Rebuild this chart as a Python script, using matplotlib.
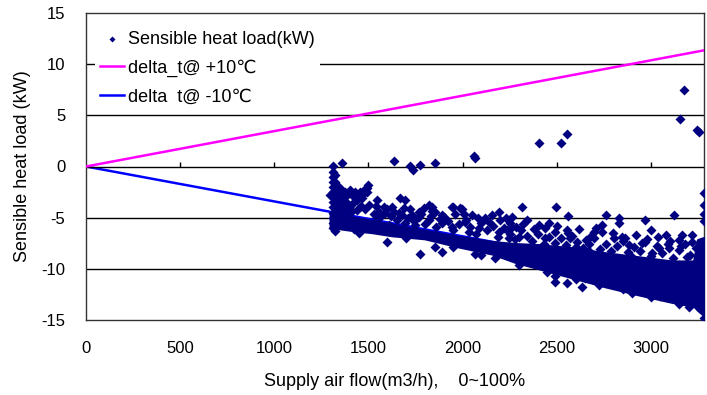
import matplotlib
matplotlib.use("Agg")
import matplotlib.pyplot as plt

plt.rcParams['font.family'] = ['Liberation Sans', 'DejaVu Sans']
plt.rcParams['axes.unicode_minus'] = False

# axis ranges / ticks
x_max = 3282
x_ticks = [0, 500, 1000, 1500, 2000, 2500, 3000]
y_ticks = [-15, -10, -5, 0, 5, 10, 15]

# reference lines (delta_t = +10 / -10), end points
line_x = [0, 3282]
line_plus = [0, 11.35]
line_minus = [0, -11.2]

core_x = [1300, 1340, 1420, 1520, 1625, 1800, 1980, 2160, 2280, 2400,
          2580, 2760, 2940, 3110, 3230, 3250, 3282]
core_hi = [-4.5, -4.75, -5.0, -5.35, -5.7, -6.3, -6.9, -7.4, -7.6, -7.7,
           -8.0, -8.5, -8.9, -9.3, -9.3, -7.2, -7.0]
core_lo = [-5.9, -6.0, -6.2, -6.4, -6.7, -7.0, -7.8, -8.5, -9.3, -9.9,
           -10.8, -11.7, -12.5, -13.2, -13.6, -14.0, -14.5]

# individual measured points outside the core
pts_x = [
    # positive outliers
    1311, 1361, 1637, 1719, 1737, 1772, 1854, 2060, 2068, 2405, 2525, 2557,
    3154, 3176, 3243, 3257,
    # column at start of the cloud
    1312, 1312, 1312, 1312, 1312, 1312, 1312, 1312, 1312, 1312, 1312, 1312,
    1320, 1320, 1320, 1320, 1320, 1320, 1320, 1320,
    # left blob
    1297, 1324, 1350, 1359, 1377, 1403, 1430, 1448, 1474, 1496, 1494, 1466,
    1341, 1394, 1439, 1501, 1330, 1340, 1360, 1380, 1400, 1420, 1440, 1460,
    1480, 1330, 1350, 1370, 1390, 1410, 1335, 1345, 1365, 1385, 1420, 1455,
    1475, 1490,
    # upper scatter 1500-2300
    1545, 1554, 1581, 1625, 1634, 1669, 1696, 1687, 1731, 1767, 1793, 1820,
    1838, 1855, 1882, 1891, 1944, 1988, 1944, 2015, 2050, 2086, 2121, 2157,
    2192, 2228, 2254, 2192, 2032, 1820, 1749, 1696, 1607, 1537, 1948, 1997,
    # upper scatter 2230-3280
    2316, 2497, 2561, 2759, 2830, 2830, 2968, 3122, 3282, 3282, 3282, 3282,
    2263, 2281, 2343, 2298, 2405, 2458, 2493, 2440, 2556, 2573, 2653, 2697,
    2742, 2706, 2803, 2848, 2883, 2954, 2998, 3042, 3078, 3096, 3149, 3166,
    3220, 3193, 3149, 3007, 2901, 2670, 2600, 2476, 2369, 2245, 2237,
    # mid band, lower row
    1530, 1560, 1590, 1620, 1650, 1680, 1710, 1740, 1770, 1800, 1830, 1860,
    1890, 1920, 1950, 1980, 2010, 2040, 2070, 2100, 2130, 2160, 2190, 2220,
    2250, 2280, 2310, 2340, 2370, 2400, 2430, 2460, 2490, 2520, 2550, 2580,
    2610, 2640, 2670, 2700, 2730, 2760, 2790, 2820, 2850, 2880, 2910, 2940,
    2970, 3000, 3030, 3060, 3090, 3120, 3150, 3180, 3210, 3240,
    # mid band, upper row
    1540, 1600, 1660, 1720, 1780, 1840, 1900, 1960, 2020, 2080, 2140, 2200,
    2260, 2320, 2380, 2440, 2500, 2560, 2620, 2680, 2740, 2800, 2860, 2920,
    2980, 3040, 3100, 3160, 3220,
    # just below the core
    1450, 1700, 1950, 2100, 2300, 2450, 2600, 2650, 2850, 2900, 3000, 3050,
    3150, 3200,
    # low outliers
    1598, 1776, 1855, 1891, 1421, 2068, 2174, 2493, 2493, 2552, 2724, 2795,
    2635, 3282,
]
pts_y = [
    0.08, 0.3, 0.54, 0.08, -0.34, 0.15, 0.3, 1.0, 0.86, 2.3, 2.27, 3.2,
    4.6, 7.45, 3.57, 3.34,
    -0.5, -1.0, -1.5, -2.0, -2.5, -3.0, -3.5, -4.0, -4.5, -5.0, -5.5, -6.0,
    -0.8, -1.6, -2.4, -3.2, -4.0, -4.8, -5.6, -6.3,
    -2.79, -1.48, -2.13, -3.1, -2.46, -2.3, -2.46, -2.79, -2.3, -1.8, -2.13, -3.1,
    -3.93, -4.1, -4.25, -3.76, -3.0, -3.5, -3.8, -3.5, -3.9, -3.6, -3.3, -3.9,
    -4.2, -4.2, -4.4, -4.2, -4.5, -4.3, -2.0, -2.8, -2.9, -2.8, -2.9, -2.5,
    -2.6, -2.5,
    -3.28, -4.4, -3.93, -3.93, -4.4, -3.1, -3.28, -4.1, -4.74, -4.4, -4.1, -3.76,
    -3.93, -4.4, -5.1, -5.55, -3.93, -4.1, -5.9, -5.4, -4.74, -6.05, -5.07, -4.74,
    -4.4, -5.07, -5.55, -6.4, -6.4, -5.23, -5.72, -5.55, -5.72, -5.4, -3.93, -4.15,
    -3.99, -3.93, -4.84, -4.74, -5.07, -5.55, -5.23, -4.74, -2.6, -3.76, -4.64, -5.33,
    -4.9, -5.88, -5.23, -6.86, -5.72, -5.55, -6.37, -7.02, -6.2, -7.02, -7.19, -6.37,
    -5.72, -6.05, -7.02, -6.86, -7.67, -7.51, -6.2, -8.0, -6.7, -8.0, -7.19, -6.7,
    -6.7, -8.8, -9.6, -8.5, -8.8, -8.3, -7.84, -8.5, -8.0, -7.02, -6.2,
    -4.6, -4.9, -4.5, -4.8, -5.2, -4.7, -5.0, -5.3, -4.9, -5.6, -4.8, -5.9,
    -4.7, -5.3, -6.2, -5.6, -4.6, -5.9, -6.6, -5.5, -6.2, -5.8, -6.9, -6.0,
    -6.6, -7.1, -6.2, -6.8, -7.3, -6.6, -7.6, -6.9, -7.5, -7.0, -7.7, -6.8,
    -7.4, -8.0, -7.6, -7.0, -8.1, -7.6, -8.3, -7.8, -7.3, -8.4, -7.9, -8.3,
    -7.4, -8.7, -7.8, -8.5, -7.6, -8.9, -8.2, -7.6, -8.6, -8.0,
    -3.9, -4.2, -4.5, -4.2, -4.6, -4.3, -4.9, -4.6, -5.2, -5.0, -5.4, -5.2,
    -5.9, -5.6, -6.1, -6.0, -5.8, -6.5, -6.1, -6.8, -6.4, -6.5, -7.0, -6.7,
    -7.1, -6.9, -7.3, -7.8, -7.4,
    -6.5, -7.0, -7.9, -8.6, -9.6, -10.3, -11.0, -10.9, -12.0, -12.4, -12.8, -12.7,
    -13.4, -13.7,
    -7.4, -8.58, -7.84, -8.4, -6.1, -8.58, -8.97, -10.7, -11.26, -11.36, -11.6, -11.36,
    -11.75, -14.78,
]

navy = '#000080'

fig = plt.figure(figsize=(7.07, 3.95), dpi=100)
ax = fig.add_axes([86 / 707, 75 / 395, 618 / 707, 307 / 395])

# horizontal grid
for yv in [-10, -5, 5, 10]:
    ax.axhline(yv, color='black', lw=1.0, zorder=1)

ax.plot(line_x, line_minus, color='#0000FF', lw=1.8, zorder=2,
        label='delta  t@ -10\u2103')
ax.fill_between(core_x, core_lo, core_hi, color=navy, lw=2.5,
                edgecolor=navy, zorder=3)
ax.scatter(pts_x, pts_y, marker='D', s=26, color=navy, linewidths=0,
           zorder=4, label='Sensible heat load(kW)')
ax.plot(line_x, line_plus, color='#FF00FF', lw=1.8, zorder=5,
        label='delta_t@ +10\u2103')

# zero axis with small upward ticks
ax.axhline(0, color='black', lw=1.0, zorder=2)
ax.vlines(x_ticks[1:], 0, 0.45, color='black', lw=1.0, zorder=2)

ax.set_xlim(0, x_max)
ax.set_ylim(-15, 15)
ax.set_xticks(x_ticks)
ax.set_yticks(y_ticks)
ax.tick_params(axis='both', length=0, labelsize=12, pad=15)
for s in ax.spines.values():
    s.set_color('#333333')
    s.set_linewidth(1.0)

ax.set_xlabel('Supply air flow(m3/h),    0~100%', fontsize=13, labelpad=12)
ax.set_ylabel('Sensible heat load (kW)', fontsize=13, labelpad=7)

handles, labels = ax.get_legend_handles_labels()
order = [1, 2, 0]
leg = ax.legend([handles[i] for i in order], [labels[i] for i in order],
                loc='upper left', bbox_to_anchor=(0.0, 0.99),
                fontsize=13, frameon=True, framealpha=1, facecolor='white',
                edgecolor='none', handlelength=1.3, handletextpad=0.2,
                labelspacing=0.65, borderpad=0.3, fancybox=False,
                markerscale=0.6)
leg.set_zorder(6)

fig.savefig('out.png', dpi=100)
